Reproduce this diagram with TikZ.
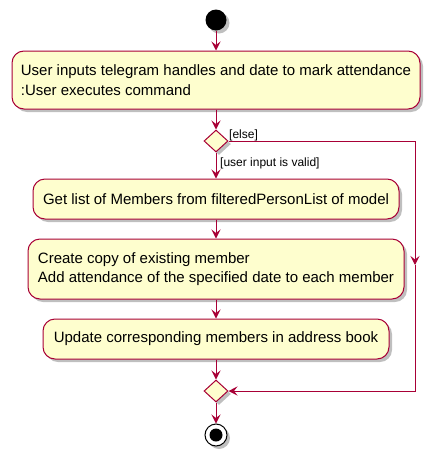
\documentclass[tikz,border=0pt]{standalone}
\usepackage{fontspec}
\setmainfont{Liberation Sans}
\usetikzlibrary{shapes.geometric,arrows.meta,shadows}
\definecolor{pborder}{HTML}{A80036}
\definecolor{pfill}{HTML}{FEFECE}
\begin{document}
\begin{tikzpicture}[x=1pt,y=1pt,
  shadowed/.style={drop shadow={shadow xshift=3pt,shadow yshift=-3pt,fill=black,opacity=0.25}},
  actbox/.style={draw=pborder,fill=pfill,line width=1pt,rounded corners=12pt,align=left,
    font=\fontsize{15}{19.5}\selectfont,inner sep=0pt,shadowed},
  decide/.style={draw=pborder,fill=pfill,line width=1pt,diamond,inner sep=0pt,minimum width=24pt,minimum height=22pt,shadowed},
  flow/.style={draw=pborder,line width=1pt,-{Stealth[length=9pt,width=9pt,inset=3.5pt]}},
  guard/.style={font=\fontsize{12}{14}\selectfont,inner sep=0pt}]
\useasboundingbox (0,0) rectangle (439,-461);
\node[circle,fill=black,minimum size=21pt,inner sep=0pt,shadowed] (start) at (216,-20) {};
\node[actbox,minimum width=408pt,minimum height=58pt] (a1) at (216,-80)
  {User inputs telegram handles and date to mark attendance\\:User executes command};
\node[decide] (d1) at (216,-141) {};
\node[actbox,minimum width=366pt,minimum height=40pt] (a2) at (216,-199)
  {Get list of Members from filteredPersonList of model};
\node[actbox,minimum width=376pt,minimum height=60pt] (a3) at (216,-269)
  {Create copy of existing member\\Add attendance of the specified date to each member};
\node[actbox,minimum width=346pt,minimum height=40pt] (a4) at (216,-339)
  {Update corresponding members in address book};
\node[decide] (d2) at (216,-391) {};
\node[circle,draw=black,fill=white,line width=1pt,minimum size=22pt,inner sep=0pt,shadowed] (stop) at (216,-435) {};
\node[circle,fill=black,minimum size=13pt,inner sep=0pt] (stopin) at (stop.center) {};
\node[guard,anchor=west] (lelse) at (229,-135) {[else]};
\node[guard,anchor=west] (lvalid) at (220,-163) {[user input is valid]};
\coordinate (c1) at (415,-141);
\coordinate (c2) at (415,-265);
\coordinate (c3) at (415,-391);
\draw[flow] (start) -- (a1);
\draw[flow] (a1) -- (d1);
\draw[flow] (d1) -- (a2);
\draw[flow] (a2) -- (a3);
\draw[flow] (a3) -- (a4);
\draw[flow] (a4) -- (d2);
\draw[flow] (d2) -- (stop);
\draw[flow] (d1.east) -- (c1) -- (c2);
\draw[flow] (c2) -- (c3) -- (d2.east);
\end{tikzpicture}
\end{document}
